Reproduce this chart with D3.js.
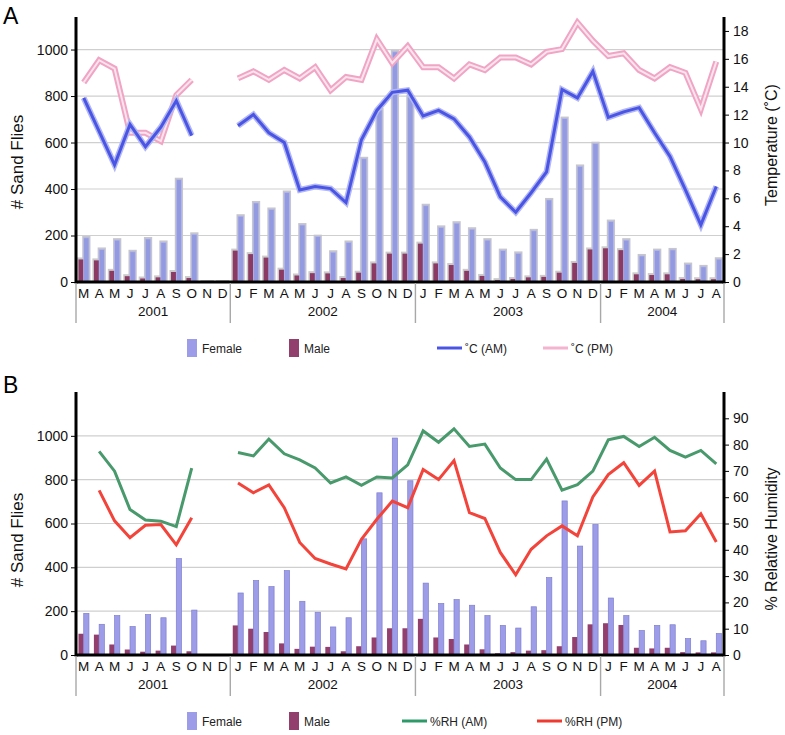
<!DOCTYPE html>
<html><head><meta charset="utf-8">
<script src="https://cdn.jsdelivr.net/npm/d3@7"></script>
<style>body{margin:0;background:#fff} text{font-family:"Liberation Sans",Arial,sans-serif;}</style>
</head><body>
<svg id="c" width="785" height="735"></svg>
<script>
const months = ["M","A","M","J","J","A","S","O","N","D",
  "J","F","M","A","M","J","J","A","S","O","N","D",
  "J","F","M","A","M","J","J","A","S","O","N","D",
  "J","F","M","A","M","J","J","A"];
const years = ["2001","2002","2003","2004"];
const yearMonthCounts = [10,12,12,8];
const female = [190,140,180,130,185,170,440,205,0,0,
  283,340,312,385,245,195,128,170,530,740,990,795,
  328,235,253,227,180,135,123,220,353,703,497,595,
  260,180,112,135,138,75,65,98];
const male = [97,93,48,25,15,20,43,17,0,0,
  135,120,105,53,28,38,37,17,40,80,122,122,
  165,80,73,48,26,8,13,20,22,40,82,140,
  145,137,33,30,33,13,12,12];
const tempAM = [13.2,10.8,8.4,11.3,9.7,11.1,13.0,10.5,null,null,
  11.2,12.0,10.7,10.0,6.6,6.85,6.7,5.7,10.2,12.3,13.6,13.75,
  11.9,12.3,11.7,10.4,8.6,6.1,5.0,6.4,7.9,13.8,13.2,15.1,
  11.8,12.2,12.5,10.7,9.0,6.6,4.1,6.85];
const tempPM = [14.3,15.9,15.3,10.7,10.7,10.1,13.4,14.5,null,null,
  14.6,15.1,14.5,15.2,14.6,15.4,13.75,14.7,14.5,17.4,15.7,16.9,
  15.4,15.4,14.6,15.6,15.2,16.1,16.1,15.6,16.5,16.7,18.6,17.3,
  16.2,16.4,15.2,14.6,15.4,15.0,12.4,15.8];
const rhAM = [null,77.4,69.9,55.3,51.3,50.9,48.8,71.1,null,null,
  77.0,75.7,82.1,76.5,74.2,71.1,65.4,67.7,64.5,67.7,67.3,72.3,
  85.2,80.9,86.0,79.3,80.2,71.1,66.7,66.7,74.5,62.7,64.8,69.9,
  81.8,83.1,79.3,82.8,77.8,75.2,77.8,72.7];
const rhPM = [null,62.6,51.0,44.6,49.3,49.6,41.9,52.2,null,null,
  65.4,61.7,64.7,56.0,42.8,36.7,34.6,32.7,44.0,51.6,58.5,56.0,
  70.5,66.7,73.9,54.1,51.9,39.0,30.5,40.2,45.3,49.1,45.3,60.1,
  68.6,73.1,64.5,69.9,46.8,47.2,53.7,43.0];
const leftTicks = [0,200,400,600,800,1000];
const tempTicks = [0,2,4,6,8,10,12,14,16,18];
const rhTicks = [0,10,20,30,40,50,60,70,80,90];

const svg = d3.select("#c");
const X0 = 76, X1 = 724;
const x = d3.scaleBand().domain(d3.range(months.length)).range([X0, X1]).padding(0);
const bw = x.bandwidth();
const cx = i => x(i) + bw/2;
const FF = '"Liberation Sans",Arial,sans-serif';

function panel(o){
  const g = svg.append("g");
  const yL = d3.scaleLinear().domain([0,o.leftMax]).range([o.base,o.top]);
  const yR = d3.scaleLinear().domain([0,o.rightMax]).range([o.base,o.top]);
  g.selectAll(".grid").data(leftTicks.slice(1)).join("line")
    .attr("x1",X0).attr("x2",X1).attr("y1",d=>yL(d)).attr("y2",d=>yL(d))
    .attr("stroke","#cfcfcf").attr("stroke-width",1.2);
  const idx = d3.range(months.length);
  if(o.halo){
    g.selectAll(".hm").data(idx).join("rect")
      .attr("x",i=>x(i)+bw*0.16-1.5).attr("width",bw*0.34+3)
      .attr("y",i=>yL(male[i])-2).attr("height",i=>o.base-yL(male[i])+2)
      .attr("fill","#cbcbcb");
    g.selectAll(".hf").data(idx).join("rect")
      .attr("x",i=>x(i)+bw*0.5-1.5).attr("width",bw*0.34+3)
      .attr("y",i=>yL(female[i])-2).attr("height",i=>o.base-yL(female[i])+2)
      .attr("fill","#c6c6cc");
  }
  g.selectAll(".bm").data(idx).join("rect")
    .attr("x",i=>x(i)+bw*0.16).attr("width",bw*0.34)
    .attr("y",i=>yL(male[i])).attr("height",i=>o.base-yL(male[i]))
    .attr("fill",o.halo?"#8a3a63":"#933f6e");
  g.selectAll(".bf").data(idx).join("rect")
    .attr("x",i=>x(i)+bw*0.5).attr("width",bw*0.34)
    .attr("y",i=>yL(female[i])).attr("height",i=>o.base-yL(female[i]))
    .attr("fill",o.halo?"#939ae0":"#9c9ce8")
    .attr("stroke",o.halo?"#b4b8ee":"#7f7fd0").attr("stroke-width",0.7);
  const line = d3.line().defined(d=>d!=null).x((d,i)=>cx(i)).y(d=>yR(d));
  o.lines.forEach(L=>{
    L.strokes.forEach(s=>{
      g.append("path").datum(L.data).attr("d",line).attr("fill","none")
        .attr("stroke",s[0]).attr("stroke-width",s[1]).attr("stroke-linejoin","miter");
    });
  });
  const la = g.append("g").attr("transform",`translate(${X0},0)`)
    .call(d3.axisLeft(yL).tickValues(leftTicks).tickFormat(d3.format("d")).tickSize(5).tickSizeOuter(0).tickPadding(3));
  la.select(".domain").remove();
  la.selectAll(".tick line").attr("stroke","#000");
  la.selectAll("text").attr("font-size",14).attr("fill","#111").style("font-family",FF);
  const ra = g.append("g").attr("transform",`translate(${X1},0)`)
    .call(d3.axisRight(yR).tickValues(o.rightTicks).tickFormat(d3.format("d")).tickSize(5).tickSizeOuter(0).tickPadding(4));
  ra.select(".domain").remove();
  ra.selectAll(".tick line").attr("stroke","#000");
  ra.selectAll("text").attr("font-size",14).attr("fill","#111").style("font-family",FF);
  g.append("line").attr("x1",X0).attr("x2",X0).attr("y1",o.top).attr("y2",o.base+1.5).attr("stroke","#000").attr("stroke-width",3);
  g.append("line").attr("x1",X1).attr("x2",X1).attr("y1",o.top).attr("y2",o.base+1.5).attr("stroke","#000").attr("stroke-width",3);
  g.append("line").attr("x1",X0).attr("x2",X1).attr("y1",o.base).attr("y2",o.base).attr("stroke","#000").attr("stroke-width",3);
  const ba = g.append("g").attr("transform",`translate(0,${o.base})`)
    .call(d3.axisBottom(x).tickFormat(i=>months[i]).tickSize(0).tickPadding(6));
  ba.select(".domain").remove();
  ba.selectAll("text").attr("font-size",13.5).attr("fill","#111").style("font-family",FF);
  let start = 0;
  const bounds = [0];
  yearMonthCounts.forEach(c=>{start+=c; bounds.push(start);});
  bounds.forEach(b=>{
    const xx = b<months.length ? x(b) : X1;
    g.append("line").attr("x1",xx).attr("x2",xx).attr("y1",o.base+1).attr("y2",o.base+41)
      .attr("stroke","#a8a8a8").attr("stroke-width",1.4);
  });
  years.forEach((yv,k)=>{
    const a = bounds[k]<months.length ? x(bounds[k]) : X1;
    const b = bounds[k+1]<months.length ? x(bounds[k+1]) : X1;
    g.append("text").attr("x",(a+b)/2).attr("y",o.base+34).attr("text-anchor","middle")
      .attr("font-size",13.5).attr("fill","#111").text(yv);
  });
  g.append("text").attr("transform",`translate(23,${o.leftTitleY}) rotate(-90)`).attr("text-anchor","middle")
    .attr("font-size",17).attr("fill","#111").text("# Sand Flies");
  g.append("text").attr("transform",`translate(777,${o.rightTitleY}) rotate(-90)`).attr("text-anchor","middle")
    .attr("font-size",16).attr("fill","#111").text(o.rightTitle);
  g.append("text").attr("x",3).attr("y",o.letterY).attr("font-size",23).attr("fill","#000").text(o.letter);
  const ly = o.base + 66;
  const lg = g.append("g");
  lg.append("rect").attr("x",187).attr("y",ly-9).attr("width",10).attr("height",18).attr("fill","#9c9ce8");
  lg.append("text").attr("x",202).attr("y",ly+4.5).attr("font-size",12).attr("fill","#222").text("Female");
  lg.append("rect").attr("x",289).attr("y",ly-9).attr("width",10).attr("height",18).attr("fill","#933f6e");
  lg.append("text").attr("x",304).attr("y",ly+4.5).attr("font-size",12).attr("fill","#222").text("Male");
  o.legendLines.forEach(L=>{
    lg.append("line").attr("x1",L.x).attr("x2",L.x+25).attr("y1",ly).attr("y2",ly).attr("stroke",L.color).attr("stroke-width",3);
    lg.append("text").attr("x",L.x+28).attr("y",ly+4.5).attr("font-size",12).attr("fill","#222").text(L.label);
  });
}

panel({top:17, base:282, leftMax:1140, rightMax:19, rightTicks:tempTicks, halo:true,
  lines:[
    {data:tempPM, strokes:[["#f0a5c4",6],["#fbe4ee",2]]},
    {data:tempAM, strokes:[["#b3b8f0",6],["#4a55e6",3]]}
  ],
  leftTitleY:162, rightTitleY:145, rightTitle:"Temperature (˚C)", letter:"A", letterY:24,
  legendLines:[{x:437,color:"#4a55e6",label:"˚C (AM)"},{x:543,color:"#f4b3cf",label:"˚C (PM)"}]
});
panel({top:392, base:655, leftMax:1200, rightMax:100, rightTicks:rhTicks, halo:false,
  lines:[
    {data:rhAM, strokes:[["#48996b",3]]},
    {data:rhPM, strokes:[["#f2443a",3]]}
  ],
  leftTitleY:540, rightTitleY:539, rightTitle:"% Relative Humidity", letter:"B", letterY:393,
  legendLines:[{x:402,color:"#2e9a6a",label:"%RH (AM)"},{x:537,color:"#ee3a2f",label:"%RH (PM)"}]
});
</script>
</body></html>
